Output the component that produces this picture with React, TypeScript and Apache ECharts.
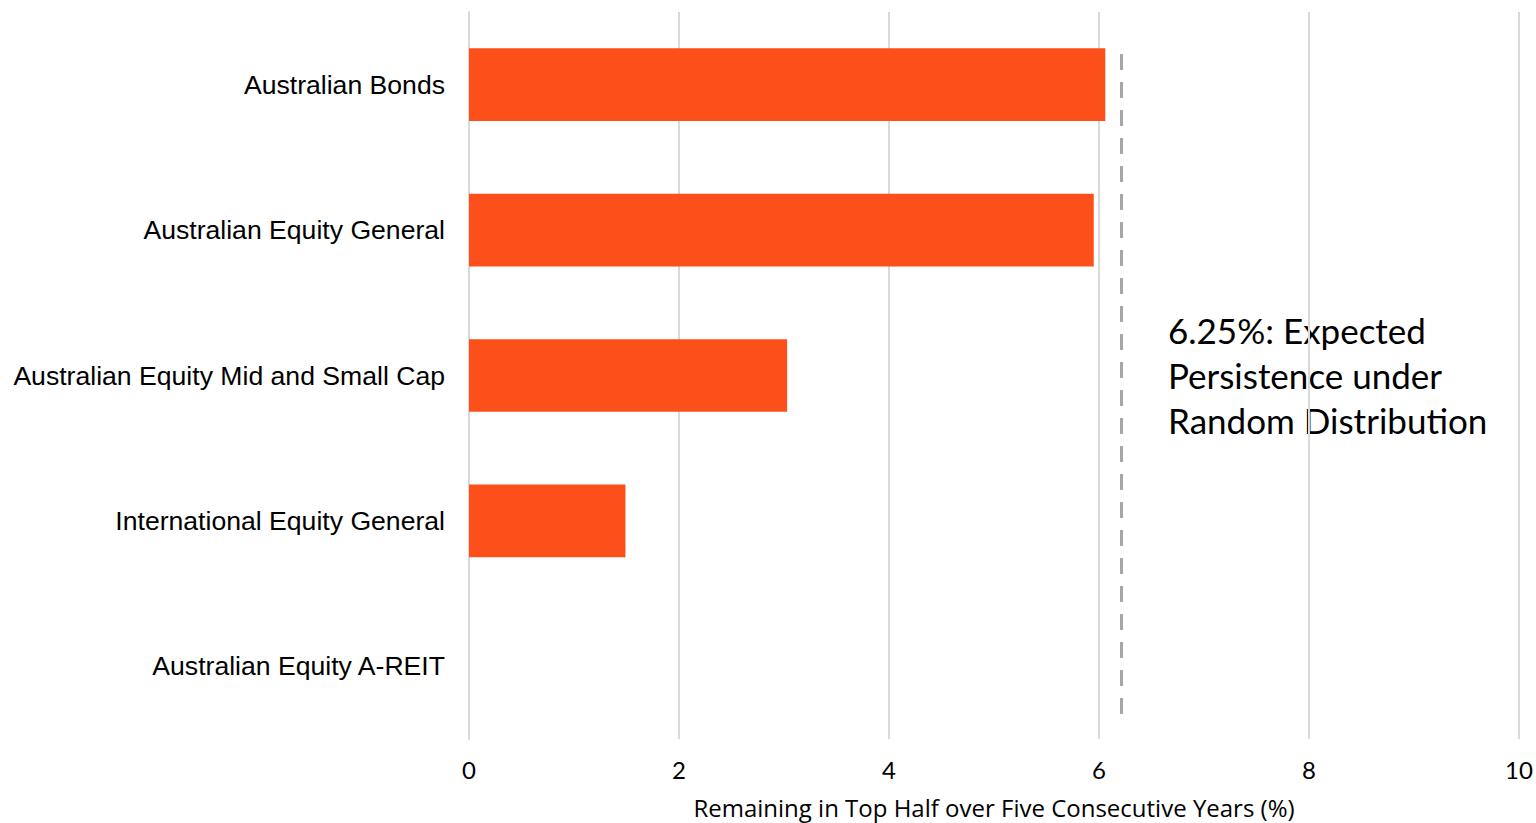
import React, { useEffect, useRef } from "react";
import * as echarts from "echarts";

const categories = [
  "Australian Equity A-REIT",
  "International Equity General",
  "Australian Equity Mid and Small Cap",
  "Australian Equity General",
  "Australian Bonds",
];
const values = [0, 1.49, 3.03, 5.95, 6.06];
const expectedValue = 6.21;
const expectedLabel = ["6.25%: Expected", "Persistence under", "Random Distribution"];
const axisName = "Remaining in Top Half over Five Consecutive Years (%)";

export default function App() {
  const ref = useRef<HTMLDivElement>(null);
  useEffect(() => {
    const chart = echarts.init(ref.current!, null, { renderer: "svg" });
    chart.setOption({
      animation: false,
      grid: { left: 469, right: 17, top: 12, bottom: 84, outerBoundsMode: "none", containLabel: false },
      xAxis: {
        type: "value",
        min: 0,
        max: 10,
        interval: 2,
        axisLine: { show: false },
        axisTick: { show: false },
        splitLine: { lineStyle: { color: "#d9d9d9", width: 2 } },
        axisLabel: { color: "#000", fontSize: 24, fontFamily: "Lato", margin: 18 },
        name: axisName,
        nameLocation: "middle",
        nameGap: 56,
        nameTextStyle: { color: "#000", fontSize: 24, fontFamily: "Open Sans" },
      },
      yAxis: {
        type: "category",
        data: categories,
        axisLine: { show: true, lineStyle: { color: "#d9d9d9", width: 2 } },
        axisTick: { show: false },
        axisLabel: { color: "#000", fontSize: 26.6, fontFamily: "Liberation Sans", margin: 24 },
      },
      series: [
        {
          type: "bar",
          data: values,
          barWidth: "50%",
          itemStyle: { color: "#fc4f1a" },
          markLine: {
            silent: true,
            symbol: "none",
            label: { show: false },
            lineStyle: { color: "#a6a6a6", width: 3, type: [16, 12] },
            data: [[{ xAxis: expectedValue, y: 54 }, { xAxis: expectedValue, y: 716 }]],
          },
        },
      ],
      graphic: [
        {
          type: "text",
          left: 1168,
          top: 307,
          style: {
            text: expectedLabel.join("\n"),
            fontSize: 35,
            lineHeight: 45,
            fontFamily: "Lato",
            fill: "#000",
          },
        },
      ],
    });
    return () => chart.dispose();
  }, []);
  return <div ref={ref} style={{ width: 1536, height: 823, position: "absolute", left: 0, top: 0 }} />;
}
